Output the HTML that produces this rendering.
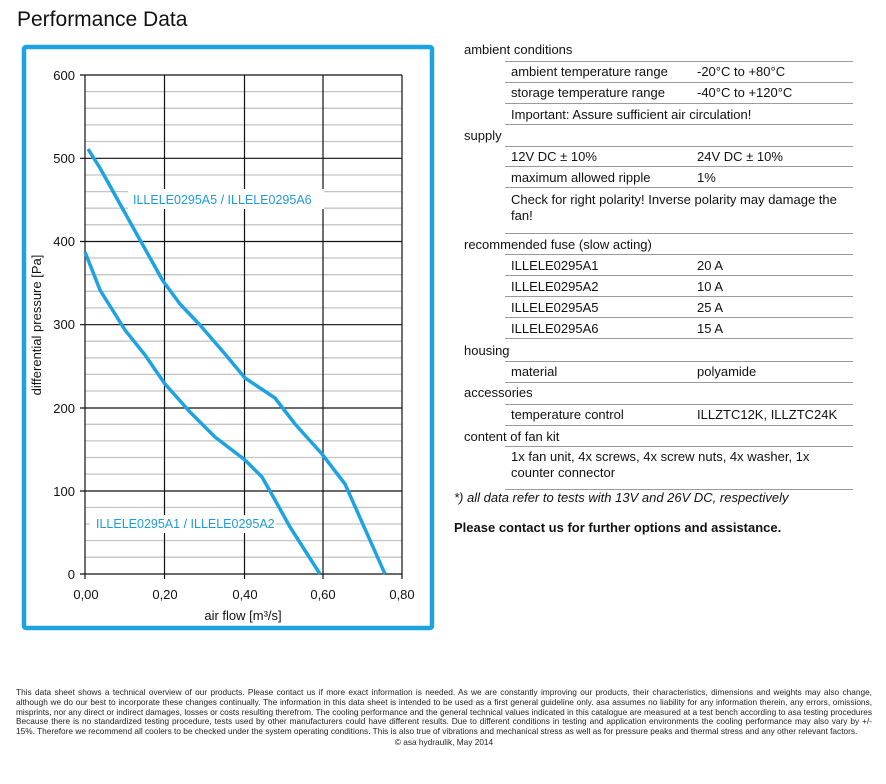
<!DOCTYPE html>
<html><head><meta charset="utf-8"><style>
body{margin:0;width:886px;height:784px;background:#fff;font-family:"Liberation Sans",Arial,sans-serif;position:relative;overflow:hidden}
.t{position:absolute;font-size:13px;color:#111;white-space:nowrap;line-height:15px}
.l{position:absolute;left:505px;width:348px;height:1px;background:#9a9a9a}
</style></head><body>
<div class="t" style="left:17px;top:8px;font-size:21px;line-height:24px">Performance Data</div>
<svg style="position:absolute;left:0;top:0" width="440" height="640">
<rect x="24" y="47" width="408" height="581" fill="none" stroke="#1ea3e2" stroke-width="4.5" rx="2"/>
<g stroke="#c4c4c4" stroke-width="1.3">
<line x1="85" x2="402" y1="91.6" y2="91.6"/><line x1="85" x2="402" y1="108.3" y2="108.3"/><line x1="85" x2="402" y1="124.9" y2="124.9"/><line x1="85" x2="402" y1="141.5" y2="141.5"/>
<line x1="85" x2="402" y1="175" y2="175"/><line x1="85" x2="402" y1="191.6" y2="191.6"/><line x1="85" x2="402" y1="208.2" y2="208.2"/><line x1="85" x2="402" y1="224.8" y2="224.8"/>
<line x1="85" x2="402" y1="258" y2="258"/><line x1="85" x2="402" y1="274.7" y2="274.7"/><line x1="85" x2="402" y1="291.3" y2="291.3"/><line x1="85" x2="402" y1="307.9" y2="307.9"/>
<line x1="85" x2="402" y1="341.2" y2="341.2"/><line x1="85" x2="402" y1="357.8" y2="357.8"/><line x1="85" x2="402" y1="374.4" y2="374.4"/><line x1="85" x2="402" y1="391" y2="391"/>
<line x1="85" x2="402" y1="424.3" y2="424.3"/><line x1="85" x2="402" y1="440.9" y2="440.9"/><line x1="85" x2="402" y1="457.5" y2="457.5"/><line x1="85" x2="402" y1="474.1" y2="474.1"/>
<line x1="85" x2="402" y1="507.4" y2="507.4"/><line x1="85" x2="402" y1="524" y2="524"/><line x1="85" x2="402" y1="540.6" y2="540.6"/><line x1="85" x2="402" y1="557.2" y2="557.2"/>
</g>
<g stroke="#111" stroke-width="1.2">
<line x1="80" x2="402" y1="75" y2="75"/><line x1="80" x2="402" y1="158.3" y2="158.3"/><line x1="80" x2="402" y1="241.5" y2="241.5"/><line x1="80" x2="402" y1="324.7" y2="324.7"/><line x1="80" x2="402" y1="408" y2="408"/><line x1="80" x2="402" y1="491" y2="491"/><line x1="80" x2="402" y1="574" y2="574"/>
<line x1="85" x2="85" y1="75" y2="579"/><line x1="164.5" x2="164.5" y1="75" y2="579"/><line x1="244.5" x2="244.5" y1="75" y2="579"/><line x1="323" x2="323" y1="75" y2="579"/><line x1="402" x2="402" y1="75" y2="579"/>
</g>
<rect x="128" y="189" width="196" height="20" fill="#fff"/>
<rect x="90" y="515" width="186" height="18" fill="#fff"/>
<g fill="none" stroke="#1ea3e2" stroke-width="3.5" stroke-linejoin="round">
<polyline points="88,149 100,168 120,204 140,240 163,281 180,304 200,325 225,354 245,378 275,398 295,424 322,454 345,484 385,574"/>
<polyline points="85,252 100,290 125,330 145,355 165,384 190,412 215,437 245,460 262,477 275,500 290,527 320,574"/>
</g>
<g font-size="12.5" fill="#1e9bd7" font-family="Liberation Sans,Arial,sans-serif">
<text x="133" y="204">ILLELE0295A5 / ILLELE0295A6</text>
<text x="96" y="528">ILLELE0295A1 / ILLELE0295A2</text>
</g>
<g font-size="13" fill="#111" text-anchor="end" font-family="Liberation Sans,Arial,sans-serif">
<text x="75" y="80">600</text><text x="75" y="163">500</text><text x="75" y="246">400</text><text x="75" y="329">300</text><text x="75" y="413">200</text><text x="75" y="496">100</text><text x="75" y="579">0</text>
</g>
<g font-size="13" fill="#111" text-anchor="middle" font-family="Liberation Sans,Arial,sans-serif">
<text x="86" y="599">0,00</text><text x="165" y="599">0,20</text><text x="245" y="599">0,40</text><text x="323" y="599">0,60</text><text x="402" y="599">0,80</text>
<text x="243" y="620">air flow  [m³/s]</text>
<text transform="translate(41,325) rotate(-90)">differential pressure [Pa]</text>
</g>
</svg>
<div class="t" style="left:464px;top:42px">ambient conditions</div>
<div class="l" style="top:61px"></div>
<div class="t" style="left:511px;top:64px">ambient temperature range</div><div class="t" style="left:697px;top:64px">-20°C to +80°C</div>
<div class="l" style="top:82px"></div>
<div class="t" style="left:511px;top:85px">storage temperature range</div><div class="t" style="left:697px;top:85px">-40°C to +120°C</div>
<div class="l" style="top:103px"></div>
<div class="t" style="left:511px;top:107px">Important: Assure sufficient air circulation!</div>
<div class="l" style="top:124px"></div>
<div class="t" style="left:464px;top:128px">supply</div>
<div class="l" style="top:146px"></div>
<div class="t" style="left:511px;top:149px">12V DC ± 10%</div><div class="t" style="left:697px;top:149px">24V DC ± 10%</div>
<div class="l" style="top:166px"></div>
<div class="t" style="left:511px;top:170px">maximum allowed ripple</div><div class="t" style="left:697px;top:170px">1%</div>
<div class="l" style="top:187px"></div>
<div class="t" style="left:511px;top:192px;line-height:16px">Check for right polarity! Inverse polarity may damage the<br>fan!</div>
<div class="l" style="top:233px"></div>
<div class="t" style="left:464px;top:237px">recommended fuse (slow acting)</div>
<div class="l" style="top:254px"></div>
<div class="t" style="left:511px;top:258px">ILLELE0295A1</div><div class="t" style="left:697px;top:258px">20 A</div>
<div class="l" style="top:275px"></div>
<div class="t" style="left:511px;top:279px">ILLELE0295A2</div><div class="t" style="left:697px;top:279px">10 A</div>
<div class="l" style="top:296px"></div>
<div class="t" style="left:511px;top:300px">ILLELE0295A5</div><div class="t" style="left:697px;top:300px">25 A</div>
<div class="l" style="top:317px"></div>
<div class="t" style="left:511px;top:321px">ILLELE0295A6</div><div class="t" style="left:697px;top:321px">15 A</div>
<div class="l" style="top:338px"></div>
<div class="t" style="left:464px;top:343px">housing</div>
<div class="l" style="top:361px"></div>
<div class="t" style="left:511px;top:364px">material</div><div class="t" style="left:697px;top:364px">polyamide</div>
<div class="l" style="top:382px"></div>
<div class="t" style="left:464px;top:385px">accessories</div>
<div class="l" style="top:404px"></div>
<div class="t" style="left:511px;top:407px">temperature control</div><div class="t" style="left:697px;top:407px">ILLZTC12K, ILLZTC24K</div>
<div class="l" style="top:425px"></div>
<div class="t" style="left:464px;top:429px">content of fan kit</div>
<div class="l" style="top:446px"></div>
<div class="t" style="left:511px;top:449px;line-height:16px">1x fan unit, 4x screws, 4x screw nuts, 4x washer, 1x<br>counter connector</div>
<div class="l" style="top:489px"></div>
<div class="t" style="left:454px;top:490px;font-style:italic">*) all data refer to tests with 13V and 26V DC, respectively</div>
<div class="t" style="left:454px;top:520px;font-weight:bold">Please contact us for further options and assistance.</div>
<div style="position:absolute;left:16px;top:688px;width:856px;font-size:8.3px;line-height:9.8px;color:#222;text-align:justify;font-family:'Liberation Sans',sans-serif">This data sheet shows a technical overview of our products. Please contact us if more exact information is needed. As we are constantly improving our products, their characteristics, dimensions and weights may also change, although we do our best to incorporate these changes continually. The information in this data sheet is intended to be used as a first general guideline only. asa assumes no liability for any information therein, any errors, omissions, misprints, nor any direct or indirect damages, losses or costs resulting therefrom. The cooling performance and the general technical values indicated in this catalogue are measured at a test bench according to asa testing procedures Because there is no standardized testing procedure, tests used by other manufacturers could have different results. Due to different conditions in testing and application environments the cooling performance may also vary by +/- 15%. Therefore we recommend all coolers to be checked under the system operating conditions. This is also true of vibrations and mechanical stress as well as for pressure peaks and thermal stress and any other relevant factors.<div style="text-align:center;margin-top:1px">© asa hydraulik, May 2014</div></div>
</body></html>
